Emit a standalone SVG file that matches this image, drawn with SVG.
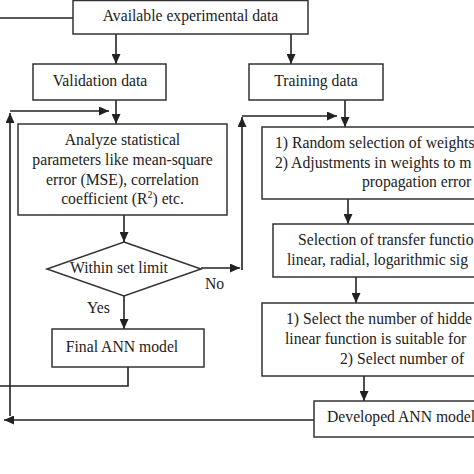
<svg xmlns="http://www.w3.org/2000/svg" width="474" height="474" viewBox="0 0 474 474">
<defs>
<style>
.box{fill:#fff;stroke:#333;stroke-width:1.5}
.t{font-family:"Liberation Serif","Times New Roman","DejaVu Serif",serif;font-size:15.7px;fill:#222}
.c{text-anchor:middle}
.ln{fill:none;stroke:#222;stroke-width:1.6}
.ar{marker-end:url(#ah)}
</style>
<marker id="ah" markerWidth="10" markerHeight="9" refX="10" refY="4.5" orient="auto" markerUnits="userSpaceOnUse">
<path d="M0,0 L10,4.5 L0,9 z" fill="#222"/>
</marker>
</defs>
<rect width="474" height="474" fill="#fff"/>
<g id="connectors">
<line class="ln" x1="73" y1="18" x2="0" y2="18"/>
<line class="ln ar" x1="116" y1="34" x2="116" y2="64"/>
<line class="ln ar" x1="291" y1="34" x2="291" y2="64"/>
<line class="ln ar" x1="116" y1="100" x2="116" y2="124"/>
<line class="ln ar" x1="345" y1="100" x2="345" y2="127"/>
<line class="ln ar" x1="124" y1="215" x2="124" y2="242"/>
<line class="ln ar" x1="124" y1="296" x2="124" y2="329"/>
<line class="ln ar" x1="348" y1="199" x2="348" y2="224"/>
<line class="ln ar" x1="356" y1="277" x2="356" y2="303"/>
<line class="ln ar" x1="364" y1="376" x2="364" y2="401"/>
<line class="ln ar" x1="201" y1="268" x2="240" y2="268"/>
<line class="ln ar" x1="242" y1="270" x2="242" y2="117"/>
<line class="ln ar" x1="242" y1="116" x2="337" y2="116"/>
<line class="ln ar" x1="10" y1="416" x2="10" y2="113"/>
<line class="ln ar" x1="10" y1="111" x2="109" y2="111"/>
<polyline class="ln" points="128,367 128,386 0,386"/>
<line class="ln ar" x1="314" y1="420" x2="4" y2="420"/>
</g>
<g id="available">
<rect class="box" x="73" y="0.5" width="235" height="33.5"/>
<text class="t c" x="190.5" y="21">Available experimental data</text>
</g>
<g id="validation">
<rect class="box" x="33" y="64" width="133" height="36"/>
<text class="t c" x="100" y="86">Validation data</text>
</g>
<g id="training">
<rect class="box" x="249" y="64" width="134" height="36"/>
<text class="t c" x="316" y="86">Training data</text>
</g>
<g id="analyze">
<rect class="box" x="18" y="124" width="209" height="91"/>
<text class="t c" x="122.5" y="145">Analyze statistical</text>
<text class="t c" x="122.5" y="165">parameters like mean-square</text>
<text class="t c" x="122.5" y="185">error (MSE), correlation</text>
<text class="t c" x="122.5" y="204">coefficient (R<tspan dy="-6" font-size="10">2</tspan><tspan dy="6">) etc.</tspan></text>
</g>
<g id="decision">
<polygon points="124,242 201,269 124,296 47,269" fill="#fff" stroke="#333" stroke-width="1.5"/>
<text class="t c" x="119" y="273">Within set limit</text>
<text class="t" x="205" y="289">No</text>
<text class="t" x="87" y="313">Yes</text>
</g>
<g id="final">
<rect class="box" x="52" y="329" width="152" height="38"/>
<text class="t c" x="122" y="352">Final ANN model</text>
</g>
<g id="random">
<rect class="box" x="262" y="127" width="230" height="72"/>
<text class="t" x="275" y="148">1) Random selection of weights</text>
<text class="t" x="275" y="168">2) Adjustments in weights to m</text>
<text class="t" x="362" y="187">propagation error</text>
</g>
<g id="transfer">
<rect class="box" x="273" y="224" width="220" height="53"/>
<text class="t" x="298" y="245">Selection of transfer functio</text>
<text class="t" x="287" y="265">linear, radial, logarithmic sig</text>
</g>
<g id="hidden">
<rect class="box" x="262" y="303" width="230" height="73"/>
<text class="t" x="286" y="324">1) Select the number of hidde</text>
<text class="t" x="285" y="344">linear function is suitable for</text>
<text class="t" x="340" y="364">2) Select number of</text>
</g>
<g id="developed">
<rect class="box" x="314" y="401" width="180" height="36"/>
<text class="t" x="327" y="422">Developed ANN model</text>
</g>
</svg>
